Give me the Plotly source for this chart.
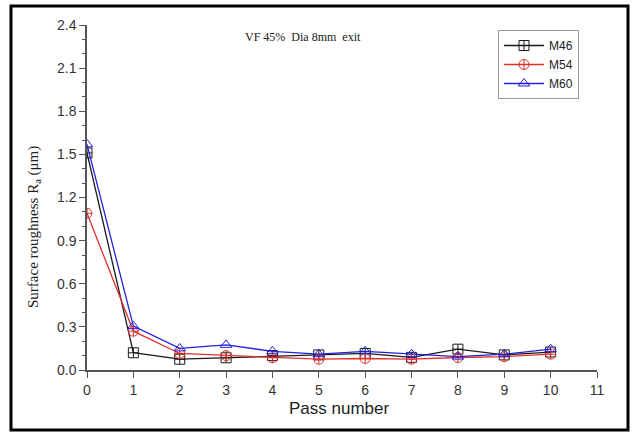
import plotly.graph_objects as go

passes = [0, 1, 2, 3, 4, 5, 6, 7, 8, 9, 10]
m46 = [1.51, 0.12, 0.075, 0.085, 0.10, 0.105, 0.115, 0.088, 0.145, 0.105, 0.125]
m54 = [1.09, 0.27, 0.115, 0.10, 0.085, 0.075, 0.08, 0.075, 0.087, 0.093, 0.11]
m60 = [1.57, 0.305, 0.15, 0.175, 0.13, 0.11, 0.13, 0.11, 0.093, 0.11, 0.145]

x_ticks = list(range(0, 12))
y_ticks = [0.0, 0.3, 0.6, 0.9, 1.2, 1.5, 1.8, 2.1, 2.4]

series = [
    ("M46", m46, "#1a1a1a", "square-cross-open"),
    ("M54", m54, "#e0302a", "circle-cross-open"),
    ("M60", m60, "#2222dd", "triangle-up-open"),
]

fig = go.Figure()
for name, vals, col, sym in series:
    fig.add_trace(go.Scatter(
        x=passes, y=vals, name=name, mode="lines+markers",
        line=dict(color=col, width=1.3),
        marker=dict(symbol=sym, size=10, color=col, line=dict(color=col, width=1)),
    ))

L, R, T, B = 87, 38, 25, 62
W, H = 635, 432
pw, ph = W - L - R, H - T - B

def px(x):
    return (x - L) / pw

def py(y):
    return (H - B - y) / ph

fig.update_layout(
    width=W, height=H,
    margin=dict(l=L, r=R, t=T, b=B, autoexpand=False),
    paper_bgcolor="white", plot_bgcolor="white",
    showlegend=True,
    legend=dict(
        x=px(498), y=py(30), xanchor="left", yanchor="top",
        bordercolor="#999999", borderwidth=1, bgcolor="white",
        font=dict(family="Liberation Sans, Arial", size=12, color="#222222"),
        itemwidth=40, tracegroupgap=0,
    ),
    xaxis=dict(
        range=[0, 11], tickvals=x_ticks, ticktext=[str(v) for v in x_ticks],
        showgrid=False, zeroline=False,
        showline=True, linecolor="#555555", linewidth=1.5,
        ticks="outside", ticklen=6, tickcolor="#555555", tickwidth=1.3,
        tickfont=dict(family="Liberation Sans, Arial", size=14, color="#333333"),
    ),
    yaxis=dict(
        range=[0, 2.4], tickvals=y_ticks, ticktext=["%.1f" % v for v in y_ticks],
        showgrid=False, zeroline=False,
        showline=True, linecolor="#555555", linewidth=1.5,
        ticks="outside", ticklen=6, tickcolor="#555555", tickwidth=1.3,
        minor=dict(dtick=0.1, ticks="outside", ticklen=3, tickcolor="#555555", tickwidth=1),
        tickfont=dict(family="Liberation Sans, Arial", size=14, color="#333333"),
    ),
    shapes=[dict(
        type="rect", xref="paper", yref="paper",
        x0=px(11), x1=px(628), y0=py(430), y1=py(6),
        line=dict(color="black", width=3), fillcolor="rgba(0,0,0,0)",
    )],
    annotations=[
        dict(text="VF 45%  Dia 8mm  exit", xref="paper", yref="paper",
             x=px(303), y=py(37), showarrow=False, xanchor="center", yanchor="middle",
             font=dict(family="Liberation Serif, Times New Roman", size=12, color="#222222")),
        dict(text="Pass number", xref="paper", yref="paper",
             x=px(339), y=py(408), showarrow=False, xanchor="center", yanchor="middle",
             font=dict(family="Liberation Sans, Arial", size=17, color="#222222")),
        dict(text="Surface roughness R<sub>a</sub> (μm)", xref="paper", yref="paper",
             x=px(34), y=py(227), showarrow=False, xanchor="center", yanchor="middle",
             textangle=-90,
             font=dict(family="Liberation Serif, Times New Roman", size=15, color="#222222")),
    ],
)

fig.write_html("out.html", config={"displayModeBar": False},
               post_script="document.body.style.margin='0';")
